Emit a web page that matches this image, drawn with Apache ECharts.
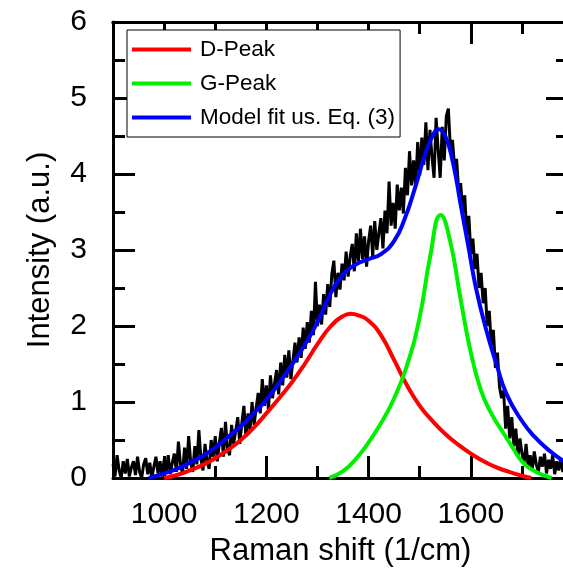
<!DOCTYPE html>
<html>
<head>
<meta charset="utf-8">
<script src="https://cdn.jsdelivr.net/npm/echarts@6/dist/echarts.min.js"></script>
<style>
html,body{margin:0;padding:0;background:#fff;}
#chart{width:563px;height:580px;}
</style>
</head>
<body>
<div id="chart"></div>
<script>
// raw spectrum, one reading every 4 1/cm from 900
var rawStart = 900;
var rawStep = 4;
var rawY = [
	0.18, 0.02, 0.30, 0.10, 0.00, 0.22, 0.06, 0.25, 0.02, 0.14,
	0.22, 0.04, 0.28, 0.08, 0.00, 0.18, 0.26, 0.05, 0.20, 0.00,
	0.15, 0.28, 0.06, 0.22, 0.02, 0.24, 0.08, 0.30, 0.05, 0.20,
	0.32, 0.08, 0.48, 0.18, 0.05, 0.40, 0.12, 0.55, 0.20, 0.08,
	0.42, 0.18, 0.63, 0.25, 0.10, 0.45, 0.22, 0.12, 0.50, 0.28,
	0.55, 0.22, 0.46, 0.66, 0.28, 0.74, 0.38, 0.30, 0.70, 0.45,
	0.62, 0.80, 0.45, 0.72, 0.95, 0.55, 0.85, 0.62, 1.00, 0.70,
	0.92, 1.12, 0.85, 1.30, 0.95, 1.22, 0.90, 1.35, 1.05, 1.25,
	1.42, 1.10, 1.52, 1.22, 1.62, 1.32, 1.68, 1.30, 1.55, 1.78,
	1.52, 1.85, 1.58, 1.98, 1.70, 2.05, 1.78, 2.20, 1.88, 2.58,
	2.00, 2.28, 2.02, 2.42, 2.15, 2.55, 2.25, 2.68, 2.86, 2.38,
	2.70, 2.48, 2.82, 2.60, 2.98, 2.65, 2.92, 3.08, 2.72, 3.22,
	2.85, 3.28, 2.88, 3.18, 2.78, 3.12, 3.32, 2.92, 3.38, 3.00,
	3.22, 3.42, 3.02, 3.52, 3.22, 3.90, 3.32, 3.62, 3.28, 3.86,
	3.52, 3.82, 3.48, 4.08, 3.72, 4.30, 3.85, 4.18, 3.82, 4.42,
	3.98, 4.48, 4.12, 4.68, 4.05, 4.58, 4.22, 3.95, 4.74, 4.32,
	3.95, 4.62, 4.18, 4.76, 4.86, 4.32, 4.45, 4.10, 4.20, 3.80,
	3.88, 3.50, 3.72, 3.20, 3.45, 2.95, 3.15, 2.75, 2.95, 2.50,
	2.70, 2.30, 2.50, 2.00, 2.20, 1.75, 1.95, 1.45, 1.65, 1.20,
	1.05, 1.15, 0.65, 0.95, 0.52, 0.80, 0.42, 0.65, 0.28, 0.52,
	0.32, 0.20, 0.45, 0.15, 0.30, 0.10, 0.35, 0.18, 0.08, 0.28,
	0.15, 0.32, 0.06, 0.24, 0.12, 0.30, 0.05, 0.22, 0.10, 0.26,
	0.08, 0.20, 0.12
];

// D peak
var dX = [1000, 1025, 1050, 1075, 1100, 1125, 1150, 1175, 1200, 1225, 1250, 1275, 1300, 1325, 1350, 1365, 1380, 1400, 1425, 1450, 1475, 1500, 1525, 1550, 1575, 1600, 1625, 1650, 1675, 1700, 1718];
var dY = [0, 0.04, 0.1, 0.17, 0.26, 0.37, 0.5, 0.66, 0.85, 1.05, 1.26, 1.5, 1.76, 1.99, 2.13, 2.16, 2.14, 2.07, 1.87, 1.55, 1.22, 0.95, 0.75, 0.58, 0.44, 0.32, 0.22, 0.14, 0.08, 0.03, 0];

// G peak
var gX = [1323, 1350, 1375, 1400, 1425, 1450, 1475, 1500, 1520, 1541, 1560, 1580, 1600, 1620, 1640, 1660, 1680, 1700, 1725, 1758];
var gY = [0, 0.09, 0.25, 0.47, 0.73, 1.05, 1.48, 2.12, 2.9, 3.46, 3.1, 2.35, 1.65, 1.15, 0.85, 0.63, 0.42, 0.22, 0.09, 0];

// model fit
var fX = [970, 1000, 1025, 1050, 1075, 1100, 1125, 1150, 1175, 1200, 1225, 1250, 1275, 1300, 1325, 1350, 1375, 1400, 1425, 1450, 1470, 1490, 1510, 1525, 1537, 1550, 1565, 1580, 1595, 1610, 1630, 1650, 1670, 1700, 1725, 1750, 1775, 1790];
var fY = [0, 0.06, 0.12, 0.2, 0.29, 0.4, 0.54, 0.68, 0.85, 1.03, 1.25, 1.49, 1.75, 2.05, 2.42, 2.68, 2.81, 2.88, 2.95, 3.12, 3.4, 3.8, 4.25, 4.5, 4.59, 4.5, 4.15, 3.6, 3.05, 2.5, 1.95, 1.5, 1.1, 0.75, 0.54, 0.38, 0.25, 0.2];

var legendNames = ['D-Peak', 'G-Peak', 'Model fit us. Eq. (3)'];

function pairs(xs, ys){
	var arr = new Array();
	for(var i=0;i<xs.length;i++){
		arr.push([xs[i], ys[i]]);
	}
	return arr;
}

var rawData = new Array();
for(var i=0;i<rawY.length;i++){
	rawData.push([rawStart + i*rawStep, rawY[i]]);
}

var FONT = 'Liberation Sans, Arial, sans-serif';
function blackLine(){
	return {color:'#000', width:3};
}

// major axes: auto ticks every 200, minor axes: ticks every 100 (short)
function xAx(pos, major, main, v){
	var a = {
		type: 'value',
		position: pos,
		min: 900,
		max: v.inCanvas ? 1780 : 1790,
		name: (main && v.names) ? 'Raman shift (1/cm)' : '',
		nameLocation: 'middle',
		nameGap: 58,
		nameTextStyle: {fontFamily: FONT, fontSize: 31, color: '#000'},
		axisLine: {show: !!main || pos == 'top', onZero: false, lineStyle: blackLine()},
		axisTick: {show: true, inside: true, length: major ? 22 : 12, lineStyle: blackLine()},
		axisLabel: {show: !!main, showMinLabel: false, showMaxLabel: false, margin: 22, fontFamily: FONT, fontSize: 30, color: '#000',
			formatter: function(val){ return val % 200 == 0 ? String(val) : ''; }},
		splitLine: {show: false}
	};
	if(major){
		a.splitNumber = 5;
	}else{
		a.interval = 100;
	}
	return a;
}

function yAx(pos, main, v){
	return {
		type: 'value',
		position: pos,
		min: 0,
		max: 6,
		interval: 1,
		name: (main && v.names) ? 'Intensity (a.u.)' : '',
		nameLocation: 'middle',
		nameGap: 57,
		nameTextStyle: {fontFamily: FONT, fontSize: 31, color: '#000'},
		axisLine: {show: true, onZero: false, lineStyle: blackLine()},
		axisTick: {show: true, inside: true, length: 22, lineStyle: blackLine()},
		minorTick: {show: true, splitNumber: 2, length: 12, lineStyle: blackLine()},
		axisLabel: {show: !!main, margin: 26, fontFamily: FONT, fontSize: 30, color: '#000'},
		splitLine: {show: false}
	};
}

function makeOption(v){
	var opt = {
		animation: false,
		grid: {left: 113, top: 22, width: v.inCanvas ? 450 : 455, height: 456, outerBoundsMode: 'none'},
		xAxis: [
			xAx('bottom', true, true, v),
			xAx('bottom', false, false, v),
			xAx('top', true, false, v),
			xAx('top', false, false, v)
		],
		yAxis: [yAx('left', true, v), yAx('right', false, v)],
		series: [
			{
				name: 'data',
				type: 'line',
				data: rawData,
				symbol: 'none',
				lineStyle: {color: '#000', width: 3}
			},
			{
				name: legendNames[0],
				type: 'line',
				data: pairs(dX, dY),
				smooth: 0.5,
				symbol: 'none',
				itemStyle: {color: '#ff0000'},
				lineStyle: {color: '#ff0000', width: 4}
			},
			{
				name: legendNames[1],
				type: 'line',
				data: pairs(gX, gY),
				smooth: 0.5,
				symbol: 'none',
				itemStyle: {color: '#00f000'},
				lineStyle: {color: '#00f000', width: 4}
			},
			{
				name: legendNames[2],
				type: 'line',
				data: pairs(fX, fY),
				smooth: 0.5,
				symbol: 'none',
				itemStyle: {color: '#0000ff'},
				lineStyle: {color: '#0000ff', width: 4}
			}
		]
	};
	if(v.bg){
		opt.backgroundColor = '#fff';
	}
	if(v.legend){
		opt.legend = {
			data: legendNames,
			orient: 'vertical',
			left: 127,
			top: 30,
			padding: [8, 5, 8, 5],
			itemGap: 11,
			icon: 'rect',
			itemWidth: 59,
			itemHeight: 4,
			backgroundColor: '#fff',
			borderColor: '#000',
			borderWidth: 1,
			borderRadius: 0,
			textStyle: {fontFamily: FONT, fontSize: 22.5, color: '#000', lineHeight: 22, padding: [0, 0, 0, 4]}
		};
	}
	return opt;
}

// a y tick at value 1 should darken this spot
function ticksDrawn(chart){
	chart.getZr().refreshImmediately();
	var cv = document.querySelector('#chart canvas');
	if(!cv) return true;
	var px = cv.getContext('2d').getImageData(128, 399, 1, 7).data;
	for(var i=0;i<px.length;i+=4){
		if(px[i+3] > 100 && px[i] < 120) return true;
	}
	return false;
}

var tries = [
	{bg: 1, legend: 1, names: 1},
	{bg: 0, legend: 1, names: 1},
	{bg: 0, legend: 1, names: 1, inCanvas: 1}
];
var chart = null;
for(var t=0;t<tries.length;t++){
	if(chart) chart.dispose();
	chart = echarts.init(document.getElementById('chart'));
	chart.setOption(makeOption(tries[t]));
	if(ticksDrawn(chart)) break;
}
</script>
</body>
</html>
